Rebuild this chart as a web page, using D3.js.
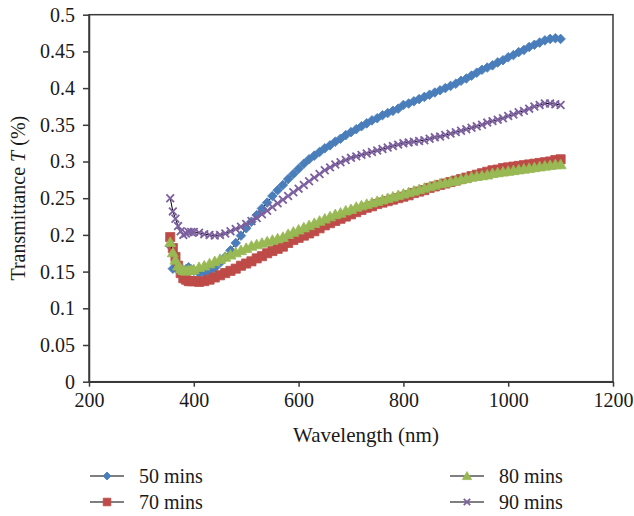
<!DOCTYPE html>
<html>
<head>
<meta charset="utf-8">
<script src="https://cdn.jsdelivr.net/npm/d3@7/dist/d3.min.js"></script>
</head>
<body style="margin:0">
<script>
// wavelength samples (nm)
var wavelength = [355, 360, 365, 370, 375, 380, 385, 390, 395, 400,
  410, 420, 430, 440, 450, 460, 470, 480, 490, 500,
  510, 520, 530, 540, 550, 560, 570, 580, 590, 600,
  610, 620, 630, 640, 650, 660, 670, 680, 690, 700,
  710, 720, 730, 740, 750, 760, 770, 780, 790, 800,
  810, 820, 830, 840, 850, 860, 870, 880, 890, 900,
  910, 920, 930, 940, 950, 960, 970, 980, 990, 1000,
  1010, 1020, 1030, 1040, 1050, 1060, 1070, 1080, 1090, 1100];

var t50 = [0.185, 0.154, 0.155, 0.152, 0.150, 0.150, 0.153, 0.156, 0.153, 0.151,
  0.148, 0.148, 0.150, 0.155, 0.162, 0.170, 0.179, 0.189, 0.199, 0.209,
  0.218, 0.227, 0.236, 0.244, 0.253, 0.261, 0.268, 0.276, 0.283, 0.290,
  0.297, 0.303, 0.308, 0.313, 0.318, 0.322, 0.327, 0.331, 0.336, 0.340,
  0.344, 0.348, 0.352, 0.356, 0.359, 0.363, 0.366, 0.369, 0.372, 0.377,
  0.379, 0.382, 0.385, 0.388, 0.391, 0.394, 0.397, 0.400, 0.403, 0.406,
  0.410, 0.413, 0.417, 0.421, 0.425, 0.428, 0.431, 0.435, 0.438, 0.442,
  0.445, 0.449, 0.452, 0.456, 0.459, 0.462, 0.465, 0.467, 0.468, 0.467];

var t70 = [0.197, 0.182, 0.170, 0.158, 0.148, 0.141, 0.139, 0.137, 0.137, 0.137,
  0.136, 0.137, 0.139, 0.142, 0.145, 0.148, 0.151, 0.154, 0.158, 0.161,
  0.164, 0.168, 0.171, 0.175, 0.178, 0.181, 0.184, 0.189, 0.193, 0.196,
  0.199, 0.202, 0.205, 0.209, 0.213, 0.216, 0.219, 0.222, 0.225, 0.228,
  0.231, 0.234, 0.237, 0.239, 0.242, 0.244, 0.246, 0.248, 0.250, 0.252,
  0.254, 0.257, 0.259, 0.261, 0.264, 0.266, 0.268, 0.270, 0.272, 0.274,
  0.276, 0.278, 0.280, 0.282, 0.284, 0.286, 0.288, 0.289, 0.291, 0.292,
  0.293, 0.294, 0.295, 0.296, 0.297, 0.298, 0.299, 0.300, 0.302, 0.303];

var t80 = [0.190, 0.176, 0.166, 0.158, 0.154, 0.152, 0.151, 0.152, 0.152, 0.153,
  0.156, 0.158, 0.161, 0.164, 0.167, 0.170, 0.173, 0.176, 0.179, 0.182,
  0.185, 0.187, 0.189, 0.191, 0.193, 0.195, 0.197, 0.201, 0.204, 0.207,
  0.210, 0.213, 0.216, 0.219, 0.222, 0.225, 0.228, 0.230, 0.233, 0.235,
  0.238, 0.240, 0.242, 0.244, 0.246, 0.248, 0.250, 0.252, 0.254, 0.256,
  0.258, 0.260, 0.262, 0.264, 0.266, 0.268, 0.270, 0.271, 0.273, 0.274,
  0.276, 0.277, 0.279, 0.280, 0.281, 0.282, 0.284, 0.285, 0.286, 0.287,
  0.288, 0.289, 0.290, 0.291, 0.292, 0.293, 0.294, 0.295, 0.296, 0.296];

var t90 = [0.250, 0.232, 0.222, 0.212, 0.205, 0.200, 0.202, 0.204, 0.204, 0.204,
  0.203, 0.201, 0.200, 0.199, 0.200, 0.202, 0.205, 0.208, 0.211, 0.215,
  0.219, 0.223, 0.228, 0.233, 0.238, 0.243, 0.248, 0.253, 0.258, 0.263,
  0.268, 0.273, 0.278, 0.283, 0.288, 0.292, 0.296, 0.299, 0.302, 0.305,
  0.307, 0.309, 0.311, 0.313, 0.315, 0.317, 0.319, 0.321, 0.323, 0.325,
  0.326, 0.327, 0.328, 0.329, 0.331, 0.333, 0.334, 0.336, 0.338, 0.340,
  0.342, 0.344, 0.346, 0.348, 0.350, 0.353, 0.355, 0.357, 0.359, 0.362,
  0.364, 0.367, 0.369, 0.372, 0.375, 0.377, 0.379, 0.379, 0.378, 0.377];

var seriesNames = ["50 mins", "70 mins", "80 mins", "90 mins"];
var xTicks = [200, 400, 600, 800, 1000, 1200];
var yTicks = [0, 0.05, 0.1, 0.15, 0.2, 0.25, 0.3, 0.35, 0.4, 0.45, 0.5];

var FONT = "'Liberation Serif'";
var width = 634, height = 516;
var margin = {top: 14.7, right: 21, bottom: 134.3, left: 89};
var chartW = width - margin.left - margin.right,
    chartH = height - margin.top - margin.bottom;

var series = [
  {name: seriesNames[0], values: t50, color: "#4a7ebb", shape: "diamond"},
  {name: seriesNames[1], values: t70, color: "#be4b48", shape: "square"},
  {name: seriesNames[2], values: t80, color: "#98b954", shape: "triangle"},
  {name: seriesNames[3], values: t90, color: "#7d60a0", shape: "cross"}
];

var x = d3.scaleLinear().domain([200, 1200]).range([0, chartW]);
var y = d3.scaleLinear().domain([0, 0.5]).range([chartH, 0]);

function markerPath(shape, big) {
  var k = big ? 1.2 : 1;
  if (shape === "diamond") return "M0," + (-4 * k) + "L" + (4 * k) + ",0L0," + (4 * k) + "L" + (-4 * k) + ",0Z";
  if (shape === "square") return "M" + (-3.8 * k) + "," + (-3.8 * k) + "H" + (3.8 * k) + "V" + (3.8 * k) + "H" + (-3.8 * k) + "Z";
  if (shape === "triangle") return "M0," + (-4.4 * k) + "L" + (4.6 * k) + "," + (3.6 * k) + "H" + (-4.6 * k) + "Z";
  return "M" + (-3.2 * k) + "," + (-3.2 * k) + "L" + (3.2 * k) + "," + (3.2 * k) + "M" + (-3.2 * k) + "," + (3.2 * k) + "L" + (3.2 * k) + "," + (-3.2 * k);
}

function drawMarker(sel, s, big) {
  sel.append("path")
    .attr("d", markerPath(s.shape, big))
    .attr("fill", s.shape === "cross" ? "none" : s.color)
    .attr("stroke", s.color)
    .attr("stroke-width", s.shape === "cross" ? 1.8 : 0.8);
}

var svg = d3.select("body").append("svg")
  .attr("width", width)
  .attr("height", height)
  .style("display", "block");

var g = svg.append("g")
  .attr("transform", "translate(" + margin.left + "," + margin.top + ")");

// frame
g.append("rect")
  .attr("width", chartW).attr("height", chartH)
  .attr("fill", "none")
  .attr("stroke", "#3a3a3a")
  .attr("stroke-width", 1.5);

var xAxisG = g.append("g")
  .attr("transform", "translate(0," + chartH + ")")
  .call(d3.axisBottom(x).tickValues(xTicks).tickSize(5).tickSizeOuter(0).tickPadding(6).tickFormat(d3.format("d")));

var yAxisG = g.append("g")
  .call(d3.axisLeft(y).tickValues(yTicks).tickSize(6).tickSizeOuter(0).tickPadding(8)
    .tickFormat(function(d) { return String(+d.toFixed(2)); }));

[xAxisG, yAxisG].forEach(function(a) {
  a.attr("font-family", null).attr("font-size", null);
  a.selectAll("path, line").attr("stroke", "#3a3a3a").attr("stroke-width", 1.5);
  a.selectAll("text")
    .style("font-family", FONT)
    .style("font-size", "20px")
    .attr("fill", "#1a1a1a");
});

var line = d3.line()
  .x(function(d, i) { return x(wavelength[i]); })
  .y(function(d) { return y(d); });

series.forEach(function(s) {
  var sg = g.append("g");
  sg.append("path")
    .attr("d", line(s.values))
    .attr("fill", "none")
    .attr("stroke", "#000")
    .attr("stroke-width", 1);
  sg.selectAll("g.pt")
    .data(s.values)
    .enter().append("g")
    .attr("class", "pt")
    .attr("transform", function(d, i) { return "translate(" + x(wavelength[i]) + "," + y(d) + ")"; })
    .each(function() { drawMarker(d3.select(this), s, true); });
});

// axis titles
svg.append("text")
  .attr("x", 366).attr("y", 442)
  .attr("text-anchor", "middle")
  .style("font-family", FONT)
  .style("font-size", "21px").attr("fill", "#1a1a1a")
  .text("Wavelength (nm)");

var yt = svg.append("text")
  .attr("transform", "translate(25," + (margin.top + chartH / 2) + ") rotate(-90)")
  .attr("text-anchor", "middle")
  .style("font-family", FONT)
  .style("font-size", "20px").attr("fill", "#1a1a1a");
yt.append("tspan").text("Transmittance ");
yt.append("tspan").style("font-style", "italic").text("T");
yt.append("tspan").text(" (%)");

// legend
var legendPos = [[90, 476], [90, 502], [450, 476], [450, 502]];
series.forEach(function(s, i) {
  var lg = svg.append("g")
    .attr("transform", "translate(" + legendPos[i][0] + "," + legendPos[i][1] + ")");
  lg.append("line").attr("x1", 0).attr("x2", 34)
    .attr("stroke", "#000").attr("stroke-width", 1.2);
  var m = lg.append("g").attr("transform", "translate(17,0)");
  drawMarker(m, s, false);
  lg.append("text")
    .attr("x", 49).attr("y", 7)
    .style("font-family", FONT)
    .style("font-size", "20px").attr("fill", "#1a1a1a")
    .text(s.name);
});
</script>
</body>
</html>
